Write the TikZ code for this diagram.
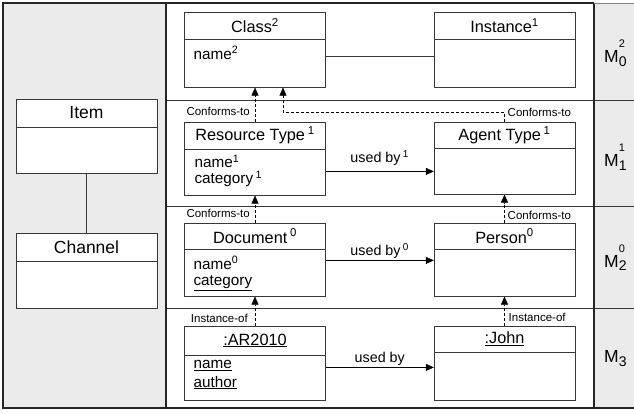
\documentclass[tikz,border=0pt]{standalone}
\usepackage{fontspec}
\setmainfont{Liberation Sans}
\usetikzlibrary{arrows.meta,positioning}
\definecolor{panel}{RGB}{235,235,235}
\definecolor{rule}{RGB}{55,55,55}

\begin{document}
\begin{tikzpicture}[
		x=1pt, y=-1pt,
		ttl/.style={
			draw=rule, fill=white, minimum width=141pt, inner sep=0pt, font=\fontsize{16.3}{18}\selectfont
		},
		bdy/.style={
			draw=rule, fill=white, minimum width=141pt, inner sep=0pt
		},
		attr/.style={
			align=left, inner sep=0pt, font=\fontsize{15.3}{15.5}\selectfont
		},
		conf/.style={
			inner sep=1pt, font=\fontsize{11.5}{12}\selectfont
		},
		usedby/.style={
			inner sep=1.5pt, font=\fontsize{14.3}{15}\selectfont
		},
		level/.style={
			anchor=base west, inner sep=0pt, font=\fontsize{17.5}{18}\selectfont
		},
		dep/.style={
			-{Triangle[length=8pt,width=7pt]}, dash pattern=on 3pt off 2pt
		},
		assoc/.style={
			-{Triangle[length=8pt,width=7pt]}
		},
		frame/.style={line width=2.4pt, black!85},
		]
		\useasboundingbox (0,0) rectangle (634,414);
		
		% panels and levels
		\fill[panel] (3,3) rectangle (166,408);
		\fill[panel] (594,3) rectangle (634,408);
		\draw[rule, line width=0.8pt] (166,100) -- (634,100);
		\draw[rule, line width=0.8pt] (166,206) -- (634,206);
		\draw[rule, line width=0.8pt] (166,308) -- (634,308);
		
		% left panel
		\node [ttl, minimum height=28pt, font=\fontsize{17.5}{19}\selectfont] (itemT) at (86.5,113) {Item};
		\node [bdy, minimum height=46pt, below=0pt of itemT] (itemB) {};
		\node [ttl, minimum height=28pt, font=\fontsize{17.5}{19}\selectfont] (chanT) at (86.5,247) {Channel};
		\node [bdy, minimum height=47pt, below=0pt of chanT] (chanB) {};
		\draw [rule] (itemB) -- (chanT);
		
		% M0
		\node [ttl, minimum height=27pt] (clsT) at (255,25.5) {Class\textsuperscript{2}};
		\node [bdy, minimum height=48pt, below=0pt of clsT] (clsB) {};
		\node [attr, below right=7pt and 9pt of clsB.north west] (clsA) {name\textsuperscript{2}};
		\node [ttl, minimum height=27pt] (instT) at (504.5,25.5) {Instance\textsuperscript{1}};
		\node [bdy, minimum height=48pt, below=0pt of instT] (instB) {};
		\coordinate (ci) at ([yshift=7pt]clsB.east);
		\draw [rule] (ci) -- (ci -| instB.west);
		
		% M1
		\node [ttl, minimum height=27pt] (rtT) at (255,135.5) {Resource Type\,\textsuperscript{1}};
		\node [bdy, minimum height=46pt, below=0pt of rtT] (rtB) {};
		\node [attr, below right=6pt and 10pt of rtB.north west] (rtA) {name\textsuperscript{1}\\category\,\textsuperscript{1}};
		\node [ttl, minimum height=26pt] (atT) at (504.5,135) {Agent Type\,\textsuperscript{1}};
		\node [bdy, minimum height=46pt, below=0pt of atT] (atB) {};
		\coordinate (ub1) at ([yshift=1pt]rtB.east);
		\draw [assoc] (ub1) -- node[usedby, midway, above=4pt] {used by\,\textsuperscript{1}} (ub1 -| atB.west);
		\coordinate (bend) at (283,112);
		\draw [dep] (rtT.north) -- node[conf, pos=0.29, left=4pt] {Conforms-to} (clsB.south);
		\draw [dep] (atT.north) |- node[conf, right=2pt] {Conforms-to} (bend) -- (bend |- clsB.south);
		
		% M2
		\node [ttl, minimum height=26pt] (docT) at (255,236) {Document\,\textsuperscript{0}};
		\node [bdy, minimum height=47pt, below=0pt of docT] (docB) {};
		\node [attr, below right=7pt and 9pt of docB.north west] (docA) {name\textsuperscript{0}\\[1pt]\underline{category}};
		\node [ttl, minimum height=26pt] (perT) at (504.5,236) {Person\textsuperscript{0}};
		\node [bdy, minimum height=47pt, below=0pt of perT] (perB) {};
		\coordinate (ub0) at ([yshift=12.5pt]docB.east);
		\draw [assoc] (ub0) -- node[usedby, midway, above] {used by\,\textsuperscript{0}} (ub0 -| perB.west);
		\draw [dep] (docT.north) -- node[conf, pos=0.36, left=4pt] {Conforms-to} (rtB.south);
		\draw [dep] (perT.north) -- node[conf, pos=0.28, right=2pt] {Conforms-to} (atB.south);
		
		% M3
		\node [ttl, minimum height=29pt] (arT) at (255,340.5) {\underline{:AR2010}};
		\node [bdy, minimum height=45pt, below=0pt of arT] (arB) {};
		\node [attr, below right=5pt and 9pt of arB.north west] (arA) {\underline{name}\\[3pt]\underline{author}};
		\node [ttl, minimum height=26pt] (johnT) at (504.5,339) {\underline{:John}};
		\node [bdy, minimum height=48pt, below=0pt of johnT] (johnB) {};
		\coordinate (ub) at ([yshift=10.5pt]arB.east);
		\draw [assoc] (ub) -- node[usedby, midway, above] {used by} (ub -| johnB.west);
		\draw [dep] (arT.north) -- node[conf, pos=0.27, left=6pt] {Instance-of} (docB.south);
		\draw [dep] (johnT.north) -- node[conf, pos=0.3, right=3pt] {Instance-of} (perB.south);
		
		% level names
		\node [level] (m0) at (604,63) {M\rlap{\raisebox{15pt}{\fontsize{11}{11}\selectfont 2}}\raisebox{-3.5pt}{\fontsize{14}{14}\selectfont 0}};
		\node [level] (m1) at (604,167) {M\rlap{\raisebox{15pt}{\fontsize{11}{11}\selectfont 1}}\raisebox{-3.5pt}{\fontsize{14}{14}\selectfont 1}};
		\node [level] (m2) at (604,267) {M\rlap{\raisebox{15pt}{\fontsize{11}{11}\selectfont 0}}\raisebox{-3.5pt}{\fontsize{14}{14}\selectfont 2}};
		\node [level] (m3) at (604,362) {M\raisebox{-4.5pt}{\fontsize{14}{14}\selectfont 3}};
		
		% frame
		\draw [frame] (634,408) -- (3,408) -- (3,3) -- (594,3);
		\draw [frame] (166,3) -- (166,408);
		\draw [frame] (594,3) -- (594,408);
		\draw [gray] (594,3) -- (634,3);
	\end{tikzpicture}
\end{document}
